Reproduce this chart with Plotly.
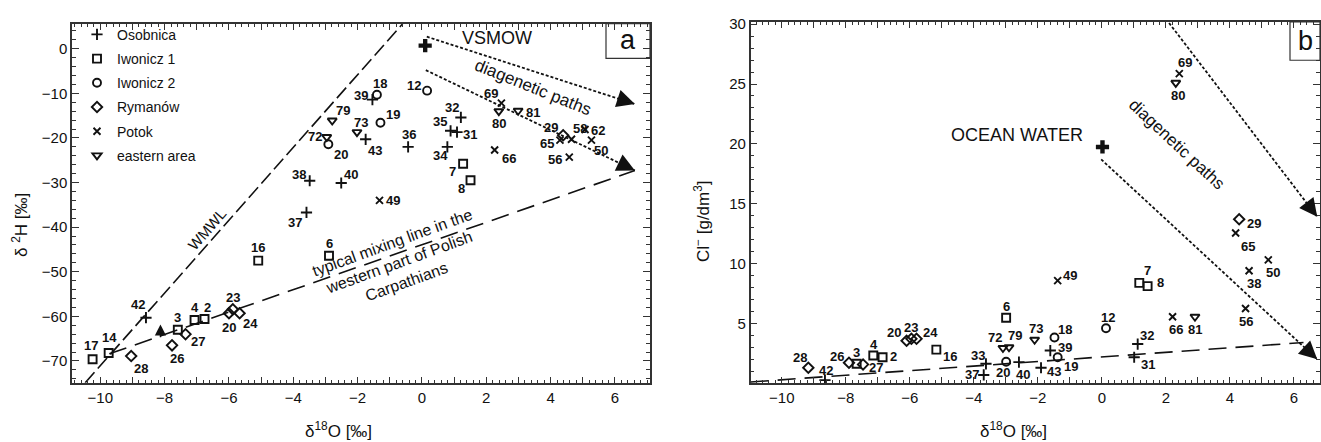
import plotly.graph_objects as go

W, H = 1321, 442

# ---------------- DATA ----------------
SERIES = ["Osobnica", "Iwonicz 1", "Iwonicz 2", "Rymanów", "Potok", "eastern area"]

# panel a : δ18O [‰] vs δ2H [‰]
osob_a_id = ["38", "37", "39", "43", "36", "32", "35", "31", "34", "40", "42"]
osob_a_d18O = [-3.49, -3.59, -1.54, -1.75, -0.43, 1.21, 0.89, 1.09, 0.79, -2.51, -8.58]
osob_a_d2H = [-29.6, -36.7, -11.4, -20.3, -22.0, -15.4, -18.4, -18.7, -22.0, -30.1, -60.3]

iw1_a_id = ["7", "8", "6", "16", "17", "14", "3", "4", "2"]
iw1_a_d18O = [1.28, 1.51, -2.89, -5.09, -10.24, -9.74, -7.59, -7.07, -6.76]
iw1_a_d2H = [-25.8, -29.5, -46.4, -47.5, -69.6, -68.2, -63.0, -60.8, -60.6]

iw2_a_id = ["18", "12", "19", "20"]
iw2_a_d18O = [-1.40, 0.16, -1.29, -2.91]
iw2_a_d2H = [-10.3, -9.4, -16.6, -21.4]

rym_a_id = ["28", "26", "27", "20", "23", "24", "29"]
rym_a_d18O = [-9.04, -7.77, -7.35, -6.00, -5.88, -5.67, 4.39]
rym_a_d2H = [-68.9, -66.5, -64.0, -59.3, -58.4, -59.3, -19.4]

pot_a_id = ["49", "66", "69", "65", "58", "62", "50", "56"]
pot_a_d18O = [-1.32, 2.26, 2.47, 4.29, 4.65, 5.07, 5.27, 4.58]
pot_a_d2H = [-34.0, -22.7, -12.2, -20.5, -20.3, -18.1, -20.5, -24.3]

east_a_id = ["79", "72", "73", "80", "81"]
east_a_d18O = [-2.79, -2.96, -2.02, 2.39, 2.99]
east_a_d2H = [-16.1, -19.8, -18.7, -14.0, -13.9]

# panel b : δ18O [‰] vs Cl- [g/dm3]
osob_b_id = ["42", "33", "37", "40", "39", "43", "32", "31"]
osob_b_d18O = [-8.65, -3.62, -3.69, -2.59, -1.61, -1.90, 1.12, 1.01]
osob_b_cl = [0.26, 1.62, 0.69, 1.76, 2.73, 1.29, 3.27, 2.17]

iw1_b_id = ["4", "2", "3", "16", "6", "7", "8"]
iw1_b_d18O = [-7.14, -6.85, -7.66, -5.17, -2.99, 1.17, 1.43]
iw1_b_cl = [2.31, 2.17, 1.62, 2.81, 5.47, 8.38, 8.11]

iw2_b_id = ["20", "18", "19", "12"]
iw2_b_d18O = [-2.99, -1.48, -1.38, 0.13]
iw2_b_cl = [1.79, 3.82, 2.17, 4.59]

rym_b_id = ["28", "26", "27", "20", "23", "24", "29"]
rym_b_d18O = [-9.17, -7.90, -7.46, -6.10, -5.95, -5.79, 4.29]
rym_b_cl = [1.29, 1.71, 1.57, 3.55, 3.71, 3.71, 13.7]

pot_b_id = ["69", "49", "66", "65", "50", "38", "56"]
pot_b_d18O = [2.42, -1.38, 2.21, 4.18, 5.20, 4.60, 4.49]
pot_b_cl = [25.87, 8.57, 5.55, 12.55, 10.30, 9.40, 6.24]

east_b_id = ["80", "72", "79", "73", "81"]
east_b_d18O = [2.31, -3.09, -2.90, -2.10, 2.91]
east_b_cl = [25.1, 2.94, 3.00, 3.63, 5.55]

# reference points
vsmow_d18O, vsmow_d2H = [0.1], [0.7]
ocean_d18O, ocean_cl = [0.02], [19.74]

# reference lines (end points)
wmwl_d18O, wmwl_d2H = [-10.47, -0.60], [-74.9, 5.6]
mix_a_d18O, mix_a_d2H = [-9.72, 6.62], [-68.4, -27.3]
diag_a1_d18O, diag_a1_d2H = [0.15, 6.62], [2.7, -12.4]
diag_a2_d18O, diag_a2_d2H = [0.12, 6.62], [-4.8, -27.3]
small_arrow_d18O, small_arrow_d2H = [-8.13, -8.13], [-65.0, -61.8]

mix_b_d18O, mix_b_cl = [-10.97, 6.3], [0.1, 3.4]
diag_b1_d18O, diag_b1_cl = [2.10, 6.73], [30.1, 13.9]
diag_b2_d18O, diag_b2_cl = [-0.02, 6.73], [18.7, 2.0]

# axis ticks
x_tickvals = list(range(-10, 7))
ya_tickvals = list(range(-70, 1, 10))
yb_tickvals = list(range(5, 31, 5))

# ---------------- STYLE ----------------
FONT = "Liberation Sans, Arial, sans-serif"
INK = "#111111"
AXC = "#333333"

SYMBOLS = {
    "Osobnica": ("cross-thin-open", 8),
    "Iwonicz 1": ("square-open", 8),
    "Iwonicz 2": ("circle-open", 8),
    "Rymanów": ("diamond-open", 8),
    "Potok": ("x-thin-open", 7),
    "eastern area": ("triangle-down-open", 8),
}

# label offsets (dx right, dy down) in pixels
OFF_A = {
    "Osobnica": [(-11, -6), (-11, 10), (-11, -4), (9, 11), (1, -12), (-9, -10), (-11, -9), (13, 2), (-7, 9), (10, -8), (-8, -13)],
    "Iwonicz 1": [(-11, 8), (-9, 8), (0, -12), (0, -13), (-2, -14), (1, -15), (0, -12), (0, -12), (3, -12)],
    "Iwonicz 2": [(3, -11), (-13, -5), (13, -8), (13, 10)],
    "Rymanów": [(10, 12), (5, 13), (12, 7), (0, 14), (0, -12), (11, 10), (-12, -8)],
    "Potok": [(14, 0), (14, 9), (-10, -10), (-13, 3), (8, -11), (13, 1), (10, 10), (-14, 2)],
    "eastern area": [(11, -10), (-12, -1), (4, -10), (0, 12), (15, 2)],
}
OFF_B = {
    "Osobnica": [(1, -10), (-8, -8), (-12, 0), (4, 12), (15, -3), (13, 4), (9, -9), (14, 7)],
    "Iwonicz 1": [(1, -11), (11, -1), (0, -11), (14, 7), (0, -11), (8, -12), (13, -4)],
    "Iwonicz 2": [(-3, 11), (11, -8), (13, 9), (2, -11)],
    "Rymanów": [(-8, -10), (-12, -6), (13, 3), (-13, -8), (0, -11), (14, -6), (15, 4)],
    "Potok": [(6, -11), (12, -5), (3, 13), (12, 13), (5, 13), (5, 13), (0, 13)],
    "eastern area": [(2, 13), (-8, -11), (6, -12), (1, -11), (0, 13)],
}

DATA_A = {
    "Osobnica": (osob_a_id, osob_a_d18O, osob_a_d2H),
    "Iwonicz 1": (iw1_a_id, iw1_a_d18O, iw1_a_d2H),
    "Iwonicz 2": (iw2_a_id, iw2_a_d18O, iw2_a_d2H),
    "Rymanów": (rym_a_id, rym_a_d18O, rym_a_d2H),
    "Potok": (pot_a_id, pot_a_d18O, pot_a_d2H),
    "eastern area": (east_a_id, east_a_d18O, east_a_d2H),
}
DATA_B = {
    "Osobnica": (osob_b_id, osob_b_d18O, osob_b_cl),
    "Iwonicz 1": (iw1_b_id, iw1_b_d18O, iw1_b_cl),
    "Iwonicz 2": (iw2_b_id, iw2_b_d18O, iw2_b_cl),
    "Rymanów": (rym_b_id, rym_b_d18O, rym_b_cl),
    "Potok": (pot_b_id, pot_b_d18O, pot_b_cl),
    "eastern area": (east_b_id, east_b_d18O, east_b_cl),
}


def pxx(px):
    return px / W


def pxy(py):
    return 1 - py / H


fig = go.Figure()

# reference lines
def add_line(xs, ys, xa, ya, dash, width=1.6):
    fig.add_trace(go.Scatter(x=xs, y=ys, xaxis=xa, yaxis=ya, mode="lines",
                             line=dict(color=INK, width=width, dash=dash),
                             showlegend=False, hoverinfo="skip"))

add_line(wmwl_d18O, wmwl_d2H, "x", "y", "14px,5px", 1.6)
add_line(mix_a_d18O, mix_a_d2H, "x", "y", "18px,9px", 1.6)
add_line(diag_a1_d18O, diag_a1_d2H, "x", "y", "3px,2px", 1.8)
add_line(diag_a2_d18O, diag_a2_d2H, "x", "y", "3px,2px", 1.8)
add_line(mix_b_d18O, mix_b_cl, "x2", "y2", "18px,9px", 1.6)
add_line(diag_b1_d18O, diag_b1_cl, "x2", "y2", "3px,2px", 1.8)
add_line(diag_b2_d18O, diag_b2_cl, "x2", "y2", "3px,2px", 1.8)

annotations = []

# data series
for i, name in enumerate(SERIES):
    sym, size = SYMBOLS[name]
    ids, xs, ys = DATA_A[name]
    fig.add_trace(go.Scatter(
        x=xs, y=ys, xaxis="x", yaxis="y", mode="markers", name=name,
        legendgroup=name,
        marker=dict(symbol=sym, size=size, color=INK, line=dict(color=INK, width=1.9)),
    ))
    for lab, xv, yv, (dx, dy) in zip(ids, xs, ys, OFF_A[name]):
        annotations.append(dict(x=xv, y=yv, xref="x", yref="y", text=lab, showarrow=False,
                                xshift=dx, yshift=-dy,
                                font=dict(family=FONT, size=13, color=INK, weight="bold")))
    ids, xs, ys = DATA_B[name]
    fig.add_trace(go.Scatter(
        x=xs, y=ys, xaxis="x2", yaxis="y2", mode="markers", name=name,
        legendgroup=name, showlegend=False,
        marker=dict(symbol=sym, size=size, color=INK, line=dict(color=INK, width=1.9)),
    ))
    for lab, xv, yv, (dx, dy) in zip(ids, xs, ys, OFF_B[name]):
        annotations.append(dict(x=xv, y=yv, xref="x2", yref="y2", text=lab, showarrow=False,
                                xshift=dx, yshift=-dy,
                                font=dict(family=FONT, size=13, color=INK, weight="bold")))

# VSMOW / ocean water
fig.add_trace(go.Scatter(x=vsmow_d18O, y=vsmow_d2H, xaxis="x", yaxis="y", mode="markers",
                         marker=dict(symbol="cross", size=11, color=INK), showlegend=False))
fig.add_trace(go.Scatter(x=ocean_d18O, y=ocean_cl, xaxis="x2", yaxis="y2", mode="markers",
                         marker=dict(symbol="cross", size=11, color=INK), showlegend=False))


# arrowheads
def arrowhead(xs, ys, xr, yr, frac=0.06, size=2.4, width=1.5):
    x0 = xs[1] - frac * (xs[1] - xs[0])
    y0 = ys[1] - frac * (ys[1] - ys[0])
    annotations.append(dict(x=xs[1], y=ys[1], ax=x0, ay=y0, xref=xr, yref=yr,
                            axref=xr, ayref=yr, text="", showarrow=True,
                            arrowhead=2, arrowsize=size, arrowwidth=width, arrowcolor=INK))

arrowhead(diag_a1_d18O, diag_a1_d2H, "x", "y")
arrowhead(diag_a2_d18O, diag_a2_d2H, "x", "y")
arrowhead(diag_b1_d18O, diag_b1_cl, "x2", "y2")
arrowhead(diag_b2_d18O, diag_b2_cl, "x2", "y2")
arrowhead(small_arrow_d18O, small_arrow_d2H, "x", "y", frac=1.0, size=1.6, width=1.4)


def text(px, py, s, size, angle=0, **kw):
    annotations.append(dict(x=pxx(px), y=pxy(py), xref="paper", yref="paper", text=s,
                            showarrow=False, textangle=angle, xanchor="center", yanchor="middle",
                            font=dict(family=FONT, size=size, color=INK), **kw))

text(497, 32, "VSMOW", 18)
text(533, 83, "diagenetic paths", 17, 22)
text(628, 34, "a", 27)
text(207, 227, "WMWL", 15, -49)
text(399, 260, "typical mixing line in the<br>western part of Polish<br>Carpathians", 16, -20)
text(1017, 131, "OCEAN WATER", 18)
text(1177, 140, "diagenetic paths", 17, 43)
text(1305, 35, "b", 27)
text(338, 430, "δ<sup>18</sup>O [‰]", 17)
text(1013, 430, "δ<sup>18</sup>O [‰]", 17)
text(20, 222, "δ <sup>2</sup>H [‰]", 17, -90)
text(702, 218, "Cl<sup>−</sup> [g/dm<sup>3</sup>]", 17, -90)

shapes = [
    dict(type="rect", xref="paper", yref="paper", x0=pxx(606), x1=pxx(650), y0=pxy(53), y1=pxy(18),
         line=dict(color=AXC, width=1.2)),
    dict(type="rect", xref="paper", yref="paper", x0=pxx(1290), x1=pxx(1320), y0=pxy(55), y1=pxy(16),
         line=dict(color=AXC, width=1.2)),
]


def minus(v):
    return str(v).replace("-", "\u2212")

x_ticktext = [minus(v) if v % 2 == 0 else "" for v in x_tickvals]

common = dict(showgrid=False, zeroline=False, showline=True, linecolor=AXC, linewidth=1.5,
              mirror="ticks", ticks="inside", tickcolor=AXC, tickwidth=1,
              tickfont=dict(family=FONT, size=15, color=INK))

fig.update_layout(
    width=W, height=H, margin=dict(l=0, r=0, t=0, b=0),
    paper_bgcolor="white", plot_bgcolor="white",
    font=dict(family=FONT, color=INK),
    xaxis=dict(domain=[pxx(72), pxx(650)], range=[-10.88, 7.09], anchor="y",
               tickmode="array", tickvals=x_tickvals, ticktext=x_ticktext, ticklen=6,
               minor=dict(dtick=0.2, tick0=0, ticks="inside", ticklen=3, tickcolor=AXC), **common),
    yaxis=dict(domain=[pxy(382), pxy(18)], range=[-74.9, 5.6], anchor="x",
               tickmode="array", tickvals=ya_tickvals, ticktext=[minus(v) for v in ya_tickvals], ticklen=7,
               minor=dict(dtick=2, tick0=0, ticks="inside", ticklen=4, tickcolor=AXC), **common),
    xaxis2=dict(domain=[pxx(750.7), pxx(1319.5)], range=[-10.97, 6.8], anchor="y2",
                tickmode="array", tickvals=x_tickvals, ticktext=x_ticktext, ticklen=6,
                minor=dict(dtick=0.2, tick0=0, ticks="inside", ticklen=3, tickcolor=AXC), **common),
    yaxis2=dict(domain=[pxy(382.4), pxy(16)], range=[0, 30.2], anchor="x2",
                tickmode="array", tickvals=yb_tickvals, ticktext=[str(v) for v in yb_tickvals], ticklen=7,
                minor=dict(dtick=1, tick0=0, ticks="inside", ticklen=4, tickcolor=AXC), **common),
    legend=dict(x=pxx(77), y=pxy(13), xanchor="left", yanchor="top", bgcolor="rgba(0,0,0,0)",
                font=dict(family=FONT, size=14, color=INK), tracegroupgap=3, itemwidth=30),
    annotations=annotations,
    shapes=shapes,
    showlegend=True,
)

fig.write_html(
    "out.html",
    config={"displayModeBar": False},
    post_script="document.body.style.margin='0';document.body.style.padding='0';"
                "document.body.style.overflow='hidden';",
)
